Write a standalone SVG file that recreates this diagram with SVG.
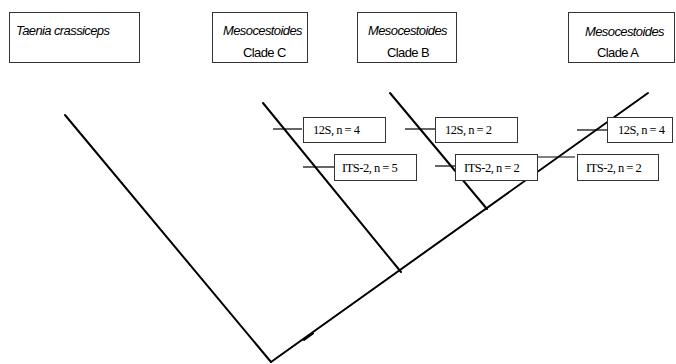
<svg xmlns="http://www.w3.org/2000/svg" width="676" height="364" viewBox="0 0 676 364">
<style>
.box{fill:#fff;stroke:#333;stroke-width:1}
.tx{font-family:"Liberation Sans",Arial,sans-serif;font-size:13px;letter-spacing:-0.6px;fill:#000}
.it{font-style:italic}
.lb{font-family:"Liberation Serif","Times New Roman",serif;font-size:12.5px;letter-spacing:-0.5px;fill:#000}
.br{stroke:#000;stroke-width:2;fill:none;stroke-linecap:round}
.tk{stroke:#000;stroke-width:1.2;fill:none}
</style>
<rect width="676" height="364" fill="#fff"/>
<g id="taenia">
<rect class="box" x="9.5" y="12.5" width="130" height="50"/>
<text class="tx it" x="16" y="35">Taenia crassiceps</text>
</g>
<g id="cladeC">
<rect class="box" x="212.5" y="12.5" width="95" height="50"/>
<text class="tx it" x="223" y="35">Mesocestoides</text>
<text class="tx" x="243" y="57">Clade C</text>
</g>
<g id="cladeB">
<rect class="box" x="357.5" y="12.5" width="99" height="50"/>
<text class="tx it" x="368" y="35">Mesocestoides</text>
<text class="tx" x="387" y="57">Clade B</text>
</g>
<g id="cladeA">
<rect class="box" x="568.5" y="12.5" width="106" height="50"/>
<text class="tx it" x="585" y="36">Mesocestoides</text>
<text class="tx" x="597" y="57">Clade A</text>
</g>
<g id="connectors">
<line class="br" x1="65" y1="115" x2="271" y2="362"/>
<line class="br" x1="271" y1="362" x2="648" y2="93"/>
<line class="br" x1="263" y1="103" x2="401" y2="272"/>
<line class="br" x1="390" y1="93" x2="487" y2="209"/>
<line class="br" x1="304" y1="340" x2="313" y2="333.5"/>
<line class="tk" x1="273" y1="129" x2="302" y2="129"/>
<line class="tk" x1="303" y1="167" x2="334" y2="167"/>
<line class="tk" x1="405" y1="129" x2="435" y2="129"/>
<line class="tk" x1="435" y1="166" x2="455" y2="166"/>
<line class="tk" x1="537" y1="157" x2="575" y2="157"/>
<line class="tk" x1="577" y1="130" x2="607" y2="130"/>
</g>
<g id="lblC12S">
<rect class="box" x="303.5" y="117.5" width="82" height="25"/>
<text class="lb" x="313" y="134">12S, n = 4</text>
</g>
<g id="lblCITS">
<rect class="box" x="334.5" y="154.5" width="82" height="26"/>
<text class="lb" x="342" y="172">ITS-2, n = 5</text>
</g>
<g id="lblB12S">
<rect class="box" x="435.5" y="117.5" width="82" height="25"/>
<text class="lb" x="445" y="134">12S, n = 2</text>
</g>
<g id="lblBITS">
<rect class="box" x="455.5" y="154.5" width="82" height="26"/>
<text class="lb" x="464" y="172">ITS-2, n = 2</text>
</g>
<g id="lblA12S">
<rect class="box" x="607.5" y="117.5" width="65" height="25"/>
<text class="lb" x="618" y="134">12S, n = 4</text>
</g>
<g id="lblAITS">
<rect class="box" x="577.5" y="154.5" width="81" height="26"/>
<text class="lb" x="586" y="172">ITS-2, n = 2</text>
</g>
</svg>
